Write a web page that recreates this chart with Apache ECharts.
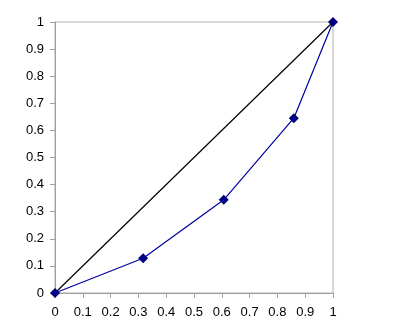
<!DOCTYPE html>
<html><head><meta charset="utf-8">
<script src="https://cdn.jsdelivr.net/npm/echarts@6/dist/echarts.min.js"></script>
<style>html,body{margin:0;padding:0;background:#fff}#c{width:418px;height:323px}</style>
</head><body><div id="c"></div>
<script>
const curveX = [0, 0.317, 0.607, 0.859, 1];
const curveY = [0, 0.128, 0.344, 0.645, 1];
const diagX = [0, 1];
const diagY = [0, 1];

const chart = echarts.init(document.getElementById('c'), null, {renderer: 'canvas'});
const font = {fontFamily: 'Liberation Sans, Arial, sans-serif', fontSize: 13, color: '#000'};
chart.setOption({
  animation: false,
  grid: {left: 55, top: 22, right: 85, bottom: 30, show: true, borderColor: '#b0b0b0', borderWidth: 1},
  xAxis: {
    type: 'value', min: 0, max: 1, interval: 0.1,
    axisLine: {lineStyle: {color: '#a0a0a0'}},
    axisTick: {show: true, length: 5, lineStyle: {color: '#a0a0a0'}},
    splitLine: {show: false},
    axisLabel: Object.assign({margin: 13, formatter: v => String(Math.round(v*10)/10)}, font)
  },
  yAxis: {
    type: 'value', min: 0, max: 1, interval: 0.1,
    axisLine: {show: true, lineStyle: {color: '#a0a0a0'}},
    axisTick: {show: true, length: 5, lineStyle: {color: '#a0a0a0'}},
    splitLine: {show: false},
    axisLabel: Object.assign({margin: 11, formatter: v => String(Math.round(v*10)/10)}, font)
  },
  series: [
    {type: 'line', data: diagX.map((x,i)=>[x, diagY[i]]), symbol: 'none',
     lineStyle: {color: '#000', width: 1.2}, z: 2},
    {type: 'line', data: curveX.map((x,i)=>[x, curveY[i]]), symbol: 'diamond', symbolSize: 10,
     itemStyle: {color: '#000080'}, lineStyle: {color: '#0000a0', width: 1.2}, z: 3}
  ]
});
</script></body></html>
